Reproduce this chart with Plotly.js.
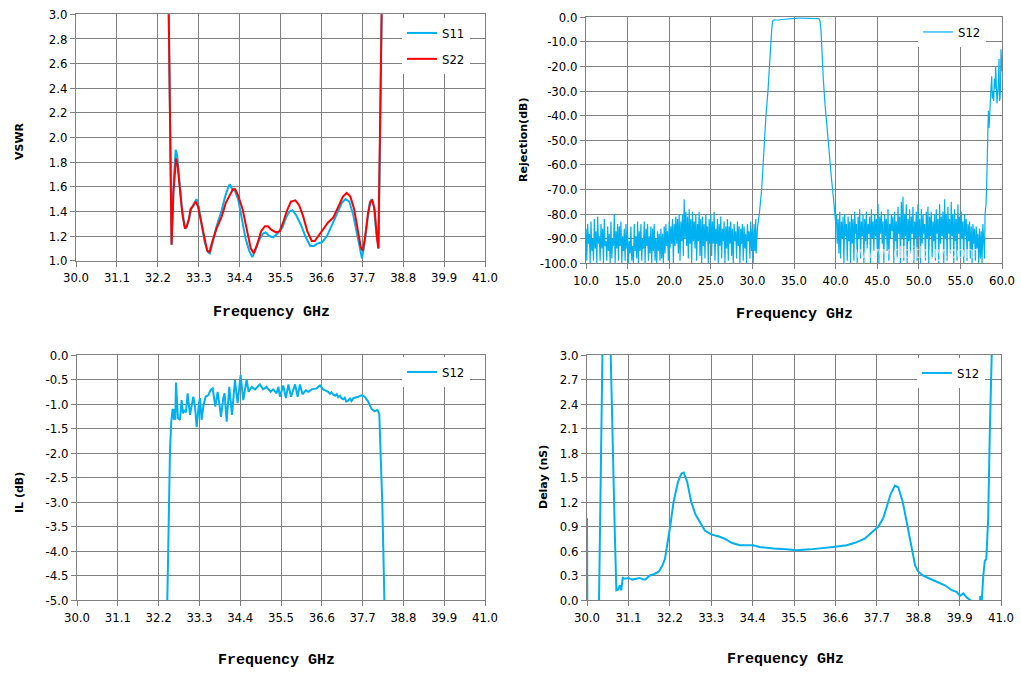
<!DOCTYPE html>
<html>
<head>
<meta charset="utf-8">
<script src="https://cdn.plot.ly/plotly-3.0.1.min.js"></script>
<style>html,body{margin:0;padding:0;background:#fff;}#chart{width:1021px;height:677px;}</style>
</head>
<body>
<div id="chart"></div>
<script>
// ---------- Tick labels ----------
const freqTicks = [30.0, 31.1, 32.2, 33.3, 34.4, 35.5, 36.6, 37.7, 38.8, 39.9, 41.0];
const rejFreqTicks = [10, 15, 20, 25, 30, 35, 40, 45, 50, 55, 60];
const vswrTicks = [1.0, 1.2, 1.4, 1.6, 1.8, 2.0, 2.2, 2.4, 2.6, 2.8, 3.0];
const rejTicks = [0, -10, -20, -30, -40, -50, -60, -70, -80, -90, -100];
const ilTicks = [0, -0.5, -1.0, -1.5, -2.0, -2.5, -3.0, -3.5, -4.0, -4.5, -5.0];
const delayTicks = [0, 0.3, 0.6, 0.9, 1.2, 1.5, 1.8, 2.1, 2.4, 2.7, 3.0];

// ---------- VSWR ----------
const s11F = [32.47, 32.57, 32.62, 32.68, 32.72, 32.76, 32.84, 32.92, 32.97, 33.03,
  33.10, 33.17, 33.24, 33.30, 33.37, 33.46, 33.55, 33.60, 33.68, 33.78,
  33.91, 34.02, 34.10, 34.14, 34.20, 34.27, 34.36, 34.46, 34.56, 34.66,
  34.74, 34.82, 34.93, 35.03, 35.10, 35.20, 35.30, 35.42, 35.55, 35.65,
  35.74, 35.82, 35.92, 36.05, 36.18, 36.30, 36.40, 36.50, 36.62, 36.75,
  36.90, 37.03, 37.15, 37.25, 37.35, 37.45, 37.55, 37.64, 37.69, 37.75,
  37.82, 37.90, 37.95, 38.01, 38.07, 38.12, 38.14, 38.22, 38.25];
const s11V = [3.6, 1.13, 1.60, 1.90, 1.86, 1.70, 1.45, 1.28, 1.27, 1.33,
  1.42, 1.46, 1.50, 1.44, 1.30, 1.15, 1.07, 1.06, 1.15, 1.28,
  1.40, 1.53, 1.60, 1.62, 1.58, 1.57, 1.50, 1.35, 1.18, 1.08,
  1.03, 1.08, 1.17, 1.22, 1.23, 1.20, 1.19, 1.22, 1.27, 1.35,
  1.40, 1.41, 1.37, 1.29, 1.19, 1.12, 1.12, 1.14, 1.15, 1.20,
  1.30, 1.40, 1.47, 1.50, 1.48, 1.38, 1.22, 1.08, 1.02, 1.12,
  1.30, 1.47, 1.50, 1.44, 1.25, 1.12, 1.10, 3.00, 3.60];
const s22F = [32.47, 32.57, 32.62, 32.69, 32.73, 32.78, 32.86, 32.93, 32.98, 33.04,
  33.08, 33.14, 33.22, 33.28, 33.35, 33.45, 33.53, 33.59, 33.67, 33.78,
  33.92, 34.03, 34.14, 34.22, 34.28, 34.36, 34.48, 34.58, 34.70, 34.78,
  34.88, 34.98, 35.08, 35.16, 35.26, 35.38, 35.48, 35.58, 35.68, 35.78,
  35.90, 36.00, 36.10, 36.22, 36.34, 36.42, 36.52, 36.65, 36.78, 36.92,
  37.05, 37.18, 37.28, 37.38, 37.48, 37.58, 37.66, 37.71, 37.77, 37.85,
  37.92, 37.97, 38.03, 38.09, 38.13, 38.22, 38.25];
const s22V = [3.6, 1.13, 1.55, 1.83, 1.78, 1.60, 1.38, 1.26, 1.28, 1.34,
  1.42, 1.44, 1.48, 1.44, 1.34, 1.17, 1.08, 1.07, 1.16, 1.26,
  1.36, 1.47, 1.54, 1.58, 1.58, 1.53, 1.42, 1.26, 1.10, 1.06,
  1.14, 1.24, 1.28, 1.28, 1.25, 1.23, 1.24, 1.32, 1.41, 1.48,
  1.49, 1.45, 1.37, 1.24, 1.16, 1.16, 1.20, 1.26, 1.31, 1.35,
  1.43, 1.52, 1.55, 1.52, 1.42, 1.24, 1.11, 1.08, 1.18, 1.38,
  1.48, 1.49, 1.42, 1.20, 1.10, 3.00, 3.60];

// ---------- Rejection (S12 wideband) ----------
const rejSweepStep = 0.1;
const rejLeftStart = 10.0;
const rejLeftNoise = [
  -86,-99,-84,-92,-88,-100,-83,-95,-90,-99,
  -82,-94,-87,-100,-81,-92,-89,-99,-84,-94,
  -86,-100,-82,-93,-91,-99,-85,-95,-88,-100,
  -83,-98,-90,-93,-80,-100,-87,-94,-84,-99,
  -85,-93,-83,-100,-89,-95,-86,-99,-84,-94,
  -88,-100,-91,-96,-85,-99,-93,-100,-84,-95,
  -89,-98,-83,-100,-87,-95,-84,-99,-90,-94,
  -83,-100,-86,-93,-84,-99,-89,-96,-85,-100,
  -86,-95,-84,-99,-90,-100,-87,-95,-88,-99,
  -86,-98,-88,-100,-85,-96,-84,-93,-87,-99,
  -83,-94,-85,-92,-82,-100,-84,-93,-81,-92,
  -82,-96,-80,-99,-83,-91,-80,-97,-74,-90,
  -79,-93,-81,-98,-78,-92,-82,-100,-79,-91,
  -83,-94,-80,-99,-84,-91,-79,-97,-82,-100,
  -81,-93,-84,-98,-80,-91,-85,-100,-82,-92,
  -80,-97,-83,-92,-79,-99,-86,-92,-82,-100,
  -84,-93,-81,-98,-86,-91,-83,-100,-85,-94,
  -82,-99,-85,-92,-83,-97,-86,-100,-84,-91,
  -87,-98,-83,-93,-85,-100,-86,-92,-84,-99,
  -85,-94,-88,-100,-84,-91,-87,-98,-83,-95,
  -86,-100,-84,-95,-82];
const rejBandF = [30.45, 30.62, 30.83, 31.11, 31.27, 31.47, 31.63, 31.87, 32.03, 32.24,
  32.32, 32.42, 32.50, 32.70, 33.00, 33.50, 34.00, 34.50, 35.00, 35.50,
  36.00, 36.50, 37.00, 37.50, 37.90, 38.05, 38.12, 38.24, 38.36, 38.52,
  38.72, 38.96, 39.25, 39.49, 39.73, 39.93, 40.02];
const rejBandV = [-96, -85, -80, -70, -60, -50, -40, -30, -20, -10,
  -5, -2, -1.2, -1.0, -1.2, -0.9, -0.7, -0.5, -0.4, -0.3,
  -0.3, -0.3, -0.3, -0.4, -0.5, -0.8, -1.5, -5, -15, -25,
  -35, -45, -55, -65, -73, -80, -84];
const rejRightStart = 40.1;
const rejRightNoise = [
  -80,-92,-82,-96,-79,-98,-83,-90,-81,
  -100,-80,-89,-84,-99,-81,-91,-83,-100,-80,
  -92,-82,-99,-79,-88,-84,-100,-81,-90,-78,
  -98,-83,-89,-80,-100,-82,-91,-79,-94,-84,
  -88,-81,-100,-78,-90,-83,-95,-80,-89,-82,
  -94,-76,-100,-81,-88,-79,-92,-83,-100,-80,
  -89,-82,-95,-78,-99,-84,-90,-80,-87,-81,
  -100,-79,-91,-83,-98,-77,-88,-81,-100,-75,
  -90,-73,-99,-80,-89,-76,-100,-82,-91,-78,
  -96,-81,-88,-77,-100,-83,-90,-79,-99,-76,
  -89,-82,-100,-78,-92,-80,-88,-84,-99,-79,
  -90,-77,-100,-81,-89,-79,-98,-83,-91,-80,
  -99,-78,-88,-82,-100,-76,-92,-81,-89,-79,
  -100,-74,-90,-80,-99,-77,-88,-82,-96,-75,
  -89,-80,-100,-78,-91,-82,-99,-76,-88,-81,
  -98,-79,-90,-83,-100,-80,-89,-82,-99,-84,
  -91,-83,-98,-85,-100,-84,-92,-86,-99,-85,
  -94,-88,-100,-86,-98,-87,-100,-84,-95];
const rejEndF = [57.90, 57.96, 58.08, 58.16, 58.22, 58.30, 58.36, 58.44, 58.52, 58.60,
  58.68, 58.76, 58.84, 58.92, 59.00, 59.08, 59.16, 59.24, 59.32, 59.40,
  59.48, 59.56, 59.64, 59.70, 59.76, 59.82, 59.88, 59.94, 60.00];
const rejEndV = [-98, -80, -76, -68, -55, -48, -38, -45, -40, -36,
  -30, -24, -33, -30, -34, -25, -29, -20, -28, -35,
  -31, -27, -17, -34, -33, -29, -13, -18, -22];

// ---------- Insertion loss ----------
const ilF = [32.40, 32.435, 32.507, 32.543, 32.579, 32.615, 32.633, 32.651, 32.668, 32.722,
  32.776, 32.821, 32.857, 32.893, 32.938, 32.983, 33.046, 33.136, 33.181, 33.226,
  33.288, 33.315, 33.360, 33.405, 33.468, 33.540, 33.603, 33.657, 33.729, 33.792,
  33.836, 33.881, 33.944, 33.980, 34.034, 34.106, 34.178, 34.259, 34.331, 34.411,
  34.483, 34.573, 34.627, 34.71, 34.80, 34.93, 35.02, 35.11, 35.22, 35.29,
  35.38, 35.43, 35.47, 35.56, 35.63, 35.70, 35.77, 35.88, 35.95, 36.01,
  36.08, 36.17, 36.24, 36.33, 36.46, 36.55, 36.64, 36.70, 36.77, 36.82,
  36.86, 36.91, 36.96, 37.00, 37.04, 37.09, 37.13, 37.18, 37.22, 37.26,
  37.31, 37.36, 37.40, 37.45, 37.52, 37.58, 37.67, 37.76, 37.85, 37.94,
  38.03, 38.10, 38.15, 38.19, 38.23, 38.26, 38.28, 38.30];
const ilV = [-5.5, -5.0, -1.94, -1.35, -1.10, -1.32, -1.10, -1.32, -0.56, -1.29,
  -1.32, -0.92, -1.19, -1.12, -1.17, -0.78, -1.22, -0.85, -1.05, -1.47,
  -0.98, -0.88, -1.32, -1.05, -0.85, -0.82, -0.71, -0.68, -1.05, -0.75,
  -0.98, -1.26, -0.88, -0.78, -1.36, -0.65, -1.22, -0.51, -0.98, -0.41,
  -0.92, -0.50, -0.75, -0.65, -0.70, -0.60, -0.70, -0.65, -0.75, -0.70,
  -0.78, -0.65, -0.85, -0.62, -0.88, -0.60, -0.85, -0.60, -0.85, -0.60,
  -0.80, -0.72, -0.75, -0.70, -0.68, -0.62, -0.70, -0.72, -0.75, -0.79,
  -0.76, -0.81, -0.83, -0.80, -0.86, -0.83, -0.88, -0.90, -0.87, -0.95,
  -0.93, -0.89, -0.94, -0.88, -0.87, -0.85, -0.82, -0.85, -0.95, -1.10,
  -1.15, -1.12, -1.20, -2.00, -3.00, -4.00, -5.00, -5.50];

// ---------- Group delay ----------
const delayF = [30.00, 30.01, 30.05, 30.32, 30.41, 30.45, 30.60, 30.63, 30.74, 30.78,
  30.83, 30.87, 30.91, 30.95, 31.00, 31.10, 31.20, 31.30, 31.40, 31.50,
  31.55, 31.67, 31.80, 31.91, 32.00, 32.07, 32.15, 32.21, 32.30, 32.42,
  32.51, 32.57, 32.66, 32.77, 32.88, 33.00, 33.13, 33.31, 33.49, 33.66,
  33.84, 34.06, 34.41, 34.59, 34.95, 35.30, 35.57, 35.93, 36.19, 36.54,
  36.90, 37.12, 37.38, 37.56, 37.74, 37.87, 37.96, 38.07, 38.18, 38.27,
  38.39, 38.51, 38.63, 38.72, 38.80, 38.92, 39.11, 39.33, 39.51, 39.69,
  39.82, 39.91, 40.00, 40.09, 40.18, 40.22, 40.43, 40.45, 40.49, 40.53,
  40.57, 40.61, 40.66, 40.70, 40.75, 40.78];
const delayV = [1.0, -0.2, -0.2, 0.0, 3.0, 3.5, 3.5, 3.0, 0.8, 0.12,
  0.13, 0.18, 0.12, 0.27, 0.26, 0.27, 0.25, 0.26, 0.27, 0.25,
  0.25, 0.30, 0.32, 0.35, 0.42, 0.50, 0.70, 0.90, 1.20, 1.45,
  1.55, 1.56, 1.45, 1.20, 1.05, 0.95, 0.85, 0.80, 0.78, 0.75,
  0.70, 0.67, 0.67, 0.65, 0.63, 0.62, 0.61, 0.62, 0.63, 0.65,
  0.67, 0.70, 0.75, 0.82, 0.90, 1.00, 1.15, 1.30, 1.40, 1.38,
  1.20, 0.90, 0.60, 0.42, 0.35, 0.30, 0.26, 0.22, 0.18, 0.12,
  0.10, 0.05, 0.08, 0.03, 0.0, -0.2, -0.2, 0.05, 0.0, 0.3,
  0.48, 0.5, 1.0, 2.0, 3.0, 3.5];

// ---------- build ----------
const BLUE = '#00B0F0', RED = '#FF0000', GRID = '#808080';
const W = 1021, H = 677;
const px = v => v / W, py = v => 1 - v / H;

const rejF = [], rejV = [];
rejLeftNoise.forEach((v, i) => { rejF.push(+(rejLeftStart + i * rejSweepStep).toFixed(2)); rejV.push(v); });
rejBandF.forEach((f, i) => { rejF.push(f); rejV.push(rejBandV[i]); });
rejRightNoise.forEach((v, i) => { rejF.push(+(rejRightStart + i * rejSweepStep).toFixed(2)); rejV.push(v); });
rejEndF.forEach((f, i) => { rejF.push(f); rejV.push(rejEndV[i]); });

const traces = [
  {x: s11F, y: s11V, name: 'S11', type: 'scatter', mode: 'lines', line: {color: BLUE, width: 2}, xaxis: 'x', yaxis: 'y', legend: 'legend', legendgroup: 'a'},
  {x: s22F, y: s22V, name: 'S22', type: 'scatter', mode: 'lines', line: {color: RED, width: 2}, xaxis: 'x', yaxis: 'y', legend: 'legend', legendgroup: 'b'},
  {x: rejF, y: rejV, name: 'S12', type: 'scatter', mode: 'lines', line: {color: BLUE, width: 1.2}, xaxis: 'x2', yaxis: 'y2', legend: 'legend2'},
  {x: ilF, y: ilV, name: 'S12', type: 'scatter', mode: 'lines', line: {color: BLUE, width: 2}, xaxis: 'x3', yaxis: 'y3', legend: 'legend3'},
  {x: delayF, y: delayV, name: 'S12', type: 'scatter', mode: 'lines', line: {color: BLUE, width: 2}, xaxis: 'x4', yaxis: 'y4', legend: 'legend4'}
];

const tickFont = {family: 'DejaVu Sans Condensed, DejaVu Sans, sans-serif', size: 13, color: '#000'};
function ax(extra) {
  return Object.assign({
    showgrid: true, gridcolor: GRID, gridwidth: 1,
    showline: true, linecolor: GRID, linewidth: 1, mirror: true,
    ticks: 'outside', ticklen: 5, tickcolor: GRID, tickwidth: 1,
    tickfont: tickFont, zeroline: false, fixedrange: true, tickmode: 'array'
  }, extra);
}
const fmt = a => a.map(v => v.toFixed(1));

const legendBase = {bgcolor: '#fff', borderwidth: 0, font: {family: 'DejaVu Sans Condensed, DejaVu Sans, sans-serif', size: 13, color: '#000'}, xanchor: 'left', yanchor: 'top', itemwidth: 30, tracegroupgap: 6};

const freqTitleFont = {family: 'Liberation Mono, monospace', size: 15, color: '#000', weight: 'bold'};
const yTitleFont = {family: 'DejaVu Sans, sans-serif', size: 11, color: '#000', weight: 'bold'};
function ann(text, x, y, font, angle) {
  return {text: text, x: px(x), y: py(y), xref: 'paper', yref: 'paper', showarrow: false, font: font, textangle: angle || 0, xanchor: 'center', yanchor: 'middle'};
}

const layout = {
  width: W, height: H, margin: {l: 0, r: 0, t: 0, b: 0},
  paper_bgcolor: '#fff', plot_bgcolor: '#fff', showlegend: true,
  xaxis: ax({domain: [px(76), px(485)], range: [30, 41], anchor: 'y', tickvals: freqTicks, ticktext: fmt(freqTicks)}),
  yaxis: ax({domain: [py(260.7), py(14.3)], range: [1, 3], anchor: 'x', tickvals: vswrTicks, ticktext: fmt(vswrTicks)}),
  xaxis2: ax({domain: [px(586), px(1002)], range: [10, 60], anchor: 'y2', tickvals: rejFreqTicks, ticktext: fmt(rejFreqTicks)}),
  yaxis2: ax({domain: [py(263.3), py(17.3)], range: [-100, 0], anchor: 'x2', tickvals: rejTicks, ticktext: fmt(rejTicks)}),
  xaxis3: ax({domain: [px(77), px(485)], range: [30, 41], anchor: 'y3', tickvals: freqTicks, ticktext: fmt(freqTicks)}),
  yaxis3: ax({domain: [py(600.3), py(355)], range: [-5, 0], anchor: 'x3', tickvals: ilTicks, ticktext: fmt(ilTicks)}),
  xaxis4: ax({domain: [px(587), px(1001)], range: [30, 41], anchor: 'y4', tickvals: freqTicks, ticktext: fmt(freqTicks), layer: 'below traces'}),
  yaxis4: ax({domain: [py(600), py(355)], range: [0, 3], anchor: 'x4', tickvals: delayTicks, ticktext: fmt(delayTicks), layer: 'below traces'}),
  legend: Object.assign({}, legendBase, {x: px(402), y: py(18)}),
  legend2: Object.assign({}, legendBase, {x: px(918), y: py(17)}),
  legend3: Object.assign({}, legendBase, {x: px(402), y: py(357)}),
  legend4: Object.assign({}, legendBase, {x: px(917), y: py(358)}),
  annotations: [
    ann('Frequency GHz', 271, 312, freqTitleFont),
    ann('Frequency GHz', 794, 314, freqTitleFont),
    ann('Frequency GHz', 276, 660, freqTitleFont),
    ann('Frequency GHz', 785, 659, freqTitleFont),
    ann('VSWR', 19, 141, yTitleFont, -90),
    ann('Rejection(dB)', 523, 140, yTitleFont, -90),
    ann('IL (dB)', 19, 493, yTitleFont, -90),
    ann('Delay (nS)', 543, 477, yTitleFont, -90),
    {text: 'www.dbjtbuy.com', x: px(852), y: py(252), xref: 'paper', yref: 'paper', showarrow: false, xanchor: 'left', yanchor: 'middle',
     font: {family: 'Liberation Sans, sans-serif', size: 16, color: 'rgba(235,235,235,0.8)'}}
  ]
};

Plotly.newPlot('chart', traces, layout, {staticPlot: true, displayModeBar: false});
</script>
</body>
</html>
